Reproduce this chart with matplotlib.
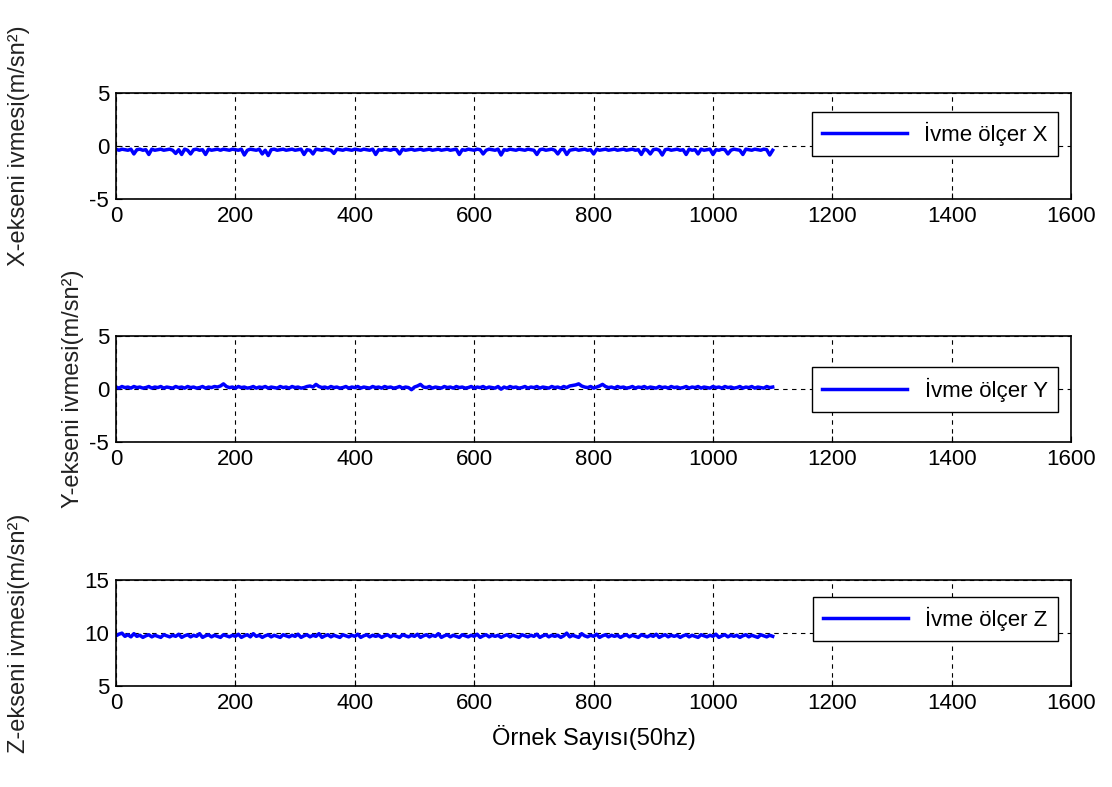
import matplotlib
matplotlib.use("Agg")
import matplotlib.pyplot as plt
import numpy as np

plt.rcParams['font.family'] = ['Liberation Sans', 'DejaVu Sans']
plt.rcParams['axes.unicode_minus'] = False

# samples read every 5 points (50 Hz), 0..1100
ivme_x = [
    -0.3, -0.4, -0.3, -0.35, -0.4, -0.3, -0.75, -0.35, -0.3, -0.4,
    -0.35, -0.8, -0.3, -0.4, -0.35, -0.3, -0.4, -0.35, -0.3, -0.4,
    -0.7, -0.35, -0.8, -0.3, -0.4, -0.75, -0.35, -0.3, -0.4, -0.35,
    -0.8, -0.3, -0.4, -0.35, -0.3, -0.4, -0.3, -0.35, -0.4, -0.3,
    -0.35, -0.4, -0.3, -0.85, -0.4, -0.3, -0.35, -0.4, -0.3, -0.75,
    -0.4, -0.9, -0.35, -0.3, -0.4, -0.35, -0.3, -0.4, -0.35, -0.3,
    -0.4, -0.35, -0.3, -0.8, -0.35, -0.4, -0.75, -0.3, -0.35, -0.4,
    -0.3, -0.35, -0.4, -0.7, -0.3, -0.35, -0.4, -0.3, -0.35, -0.4,
    -0.3, -0.35, -0.4, -0.3, -0.35, -0.4, -0.3, -0.8, -0.35, -0.4,
    -0.3, -0.35, -0.4, -0.3, -0.35, -0.75, -0.3, -0.4, -0.35, -0.3,
    -0.4, -0.35, -0.3, -0.4, -0.35, -0.3, -0.4, -0.35, -0.3, -0.4,
    -0.35, -0.3, -0.4, -0.35, -0.3, -0.8, -0.35, -0.4, -0.3, -0.35,
    -0.4, -0.3, -0.35, -0.75, -0.4, -0.3, -0.35, -0.4, -0.3, -0.85,
    -0.35, -0.4, -0.3, -0.35, -0.4, -0.3, -0.35, -0.4, -0.3, -0.35,
    -0.4, -0.8, -0.35, -0.3, -0.4, -0.35, -0.3, -0.4, -0.75, -0.35,
    -0.3, -0.8, -0.4, -0.35, -0.3, -0.4, -0.35, -0.3, -0.4, -0.35,
    -0.75, -0.3, -0.4, -0.35, -0.3, -0.4, -0.35, -0.3, -0.4, -0.35,
    -0.3, -0.4, -0.35, -0.3, -0.4, -0.35, -0.8, -0.3, -0.4, -0.75,
    -0.35, -0.3, -0.4, -0.85, -0.35, -0.3, -0.4, -0.35, -0.3, -0.4,
    -0.35, -0.8, -0.3, -0.4, -0.35, -0.75, -0.3, -0.4, -0.35, -0.3,
    -0.8, -0.35, -0.4, -0.3, -0.35, -0.75, -0.4, -0.3, -0.35, -0.4,
    -0.8, -0.3, -0.35, -0.4, -0.3, -0.35, -0.4, -0.3, -0.35, -0.85,
    -0.4,
]

ivme_y = [
    0.2, 0.1, 0.25, 0.15, 0.2, 0.1, 0.25, 0.15, 0.2, 0.1,
    0.15, 0.25, 0.1, 0.2, 0.15, 0.25, 0.1, 0.2, 0.15, 0.1,
    0.25, 0.15, 0.2, 0.1, 0.25, 0.15, 0.2, 0.1, 0.15, 0.25,
    0.1, 0.2, 0.15, 0.25, 0.2, 0.3, 0.5, 0.25, 0.15, 0.2,
    0.1, 0.25, 0.15, 0.2, 0.1, 0.15, 0.25, 0.1, 0.2, 0.15,
    0.25, 0.1, 0.2, 0.15, 0.1, 0.25, 0.15, 0.2, 0.1, 0.25,
    0.15, 0.2, 0.1, 0.15, 0.25, 0.3, 0.2, 0.45, 0.25, 0.15,
    0.2, 0.1, 0.25, 0.15, 0.2, 0.1, 0.15, 0.25, 0.1, 0.2,
    0.15, 0.25, 0.1, 0.2, 0.15, 0.1, 0.25, 0.15, 0.2, 0.1,
    0.25, 0.15, 0.2, 0.1, 0.15, 0.25, 0.1, 0.2, 0.15, -0.05,
    0.2, 0.3, 0.45, 0.2, 0.15, 0.25, 0.1, 0.2, 0.15, 0.1,
    0.25, 0.15, 0.2, 0.1, 0.25, 0.15, 0.2, 0.1, 0.15, 0.25,
    0.1, 0.2, 0.15, 0.25, 0.1, 0.2, 0.15, 0.1, 0.25, 0.0,
    0.2, 0.1, 0.25, 0.15, 0.2, 0.1, 0.15, 0.25, 0.1, 0.2,
    0.15, 0.25, 0.1, 0.2, 0.15, 0.1, 0.25, 0.15, 0.2, 0.1,
    0.25, 0.15, 0.3, 0.35, 0.4, 0.5, 0.3, 0.2, 0.15, 0.25,
    0.1, 0.2, 0.3, 0.45, 0.25, 0.15, 0.2, 0.1, 0.25, 0.15,
    0.2, 0.1, 0.15, 0.25, 0.1, 0.2, 0.15, 0.25, 0.1, 0.2,
    0.15, 0.1, 0.25, 0.15, 0.2, 0.1, 0.25, 0.15, 0.2, 0.1,
    0.15, 0.25, 0.1, 0.2, 0.15, 0.25, 0.1, 0.2, 0.15, 0.1,
    0.25, 0.15, 0.2, 0.1, 0.25, 0.15, 0.2, 0.1, 0.15, 0.25,
    0.1, 0.2, 0.15, 0.25, 0.1, 0.2, 0.15, 0.1, 0.25, 0.15,
    0.2,
]

ivme_z = [
    9.75, 9.9, 10.0, 9.7, 9.85, 9.65, 9.95, 9.7, 9.8, 9.6,
    9.75, 9.85, 9.65, 9.8, 9.7, 9.6, 9.85, 9.75, 9.65, 9.8,
    9.7, 9.9, 9.6, 9.75, 9.85, 9.65, 9.8, 9.7, 9.95, 9.6,
    9.75, 9.85, 9.65, 9.8, 9.7, 9.6, 9.85, 9.75, 9.65, 9.8,
    9.7, 9.9, 9.6, 9.75, 9.85, 9.65, 9.95, 9.7, 9.8, 9.6,
    9.75, 9.85, 9.65, 9.8, 9.7, 9.6, 9.85, 9.75, 9.65, 9.8,
    9.7, 9.9, 9.6, 9.75, 9.85, 9.65, 9.8, 9.7, 9.95, 9.6,
    9.75, 9.85, 9.65, 9.8, 9.7, 9.6, 9.85, 9.75, 9.65, 9.8,
    9.7, 9.9, 9.6, 9.75, 9.85, 9.65, 9.8, 9.7, 9.8, 9.6,
    9.75, 9.85, 9.65, 9.8, 9.7, 9.6, 9.85, 9.75, 9.65, 9.8,
    9.7, 9.9, 9.6, 9.75, 9.85, 9.65, 9.8, 9.7, 9.95, 9.6,
    9.75, 9.85, 9.65, 9.8, 9.7, 9.6, 9.85, 9.75, 9.65, 9.8,
    9.7, 9.9, 9.6, 9.75, 9.85, 9.65, 9.8, 9.7, 9.8, 9.6,
    9.75, 9.85, 9.65, 9.8, 9.7, 9.6, 9.85, 9.75, 9.65, 9.8,
    9.7, 9.9, 9.6, 9.75, 9.85, 9.65, 9.8, 9.7, 9.8, 9.6,
    9.75, 10.0, 9.65, 9.8, 9.7, 9.6, 9.95, 9.75, 9.65, 9.8,
    9.7, 9.9, 9.6, 9.75, 9.85, 9.65, 9.8, 9.7, 9.8, 9.6,
    9.75, 9.85, 9.65, 9.8, 9.7, 9.6, 9.85, 9.75, 9.65, 9.8,
    9.7, 9.9, 9.6, 9.75, 9.85, 9.65, 9.8, 9.7, 9.8, 9.6,
    9.75, 9.85, 9.65, 9.8, 9.7, 9.6, 9.85, 9.75, 9.65, 9.8,
    9.7, 9.9, 9.6, 9.75, 9.85, 9.65, 9.8, 9.7, 9.8, 9.6,
    9.75, 9.85, 9.65, 9.8, 9.7, 9.6, 9.85, 9.75, 9.65, 9.8,
    9.7,
]

ornek = np.arange(len(ivme_x)) * 5

seriler = [ivme_x, ivme_y, ivme_z]
etiketler = ["İvme ölçer X", "İvme ölçer Y", "İvme ölçer Z"]
ylabels = ["X-ekseni ivmesi(m/sn²)", "Y-ekseni ivmesi(m/sn²)", "Z-ekseni ivmesi(m/sn²)"]
ylims = [(-5, 5), (-5, 5), (5, 15)]
yticks = [[-5, 0, 5], [-5, 0, 5], [5, 10, 15]]

fig = plt.figure(figsize=(11.12, 7.87), dpi=100)
alt = [0.747, 0.438, 0.128]
leg_y = [0.82, 0.705, 0.84]
lab_x = [-0.09, -0.034, -0.09]
fs = 16

for i in range(3):
    ax = fig.add_axes([0.1043, alt[i], 0.859, 0.135])
    ax.plot(ornek, seriler[i], color="blue", lw=2.5, label=etiketler[i])
    ax.set_xlim(0, 1600)
    ax.set_ylim(*ylims[i])
    ax.set_xticks(range(0, 1601, 200))
    ax.set_yticks(yticks[i])
    ax.grid(True, color="black", linestyle=(0, (4, 4)), linewidth=0.8)
    ax.tick_params(direction="in", labelsize=fs, length=4, pad=5)
    for s in ax.spines.values():
        s.set_linewidth(1.2)
    ax.set_ylabel(ylabels[i], fontsize=17, color="#222222")
    ax.yaxis.set_label_coords(lab_x[i], 0.5)
    leg = ax.legend(loc="upper right", bbox_to_anchor=(0.986, leg_y[i]),
                    fontsize=fs, fancybox=False, handlelength=3.8,
                    handletextpad=0.8, borderpad=0.45, borderaxespad=0,
                    framealpha=1)
    leg.get_frame().set_edgecolor("black")
    leg.get_frame().set_linewidth(1.0)
    if i == 2:
        ax.set_xlabel("Örnek Sayısı(50hz)", fontsize=17, labelpad=8)

fig.savefig("out.png", dpi=100)
